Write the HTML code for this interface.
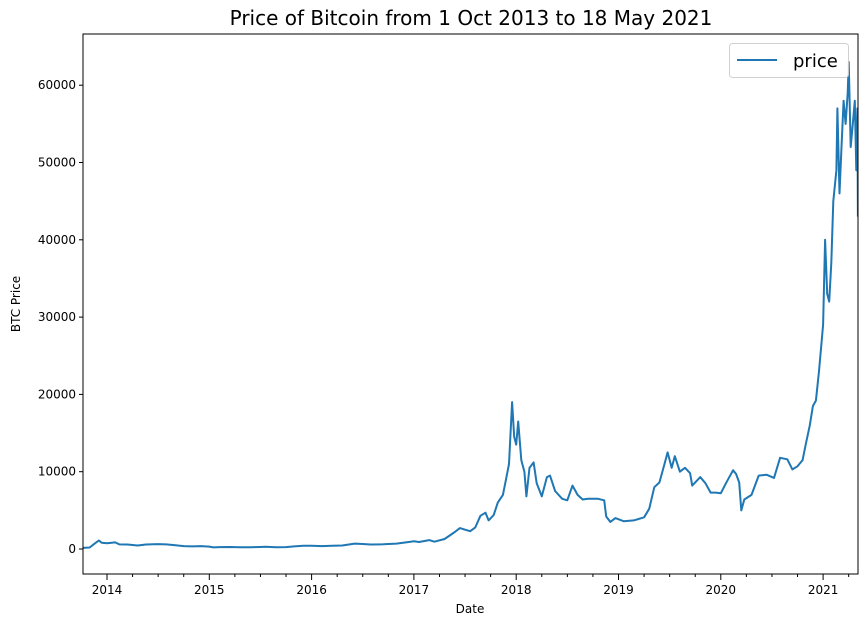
<!DOCTYPE html>
<html><head><meta charset="utf-8"><style>
body{margin:0;background:#fff;font-family:"Liberation Sans","DejaVu Sans",sans-serif}
</style></head><body>
<svg width="868" height="626" style="font-family:'DejaVu Sans','Liberation Sans',sans-serif">
<defs><clipPath id="clip"><rect x="83" y="34" width="775" height="540"/></clipPath></defs>
<rect width="868" height="626" fill="#fff"/>
<text x="471" y="25" font-size="20" text-anchor="middle">Price of Bitcoin from 1 Oct 2013 to 18 May 2021</text>
<g id="axes"></g>
<path id="line" fill="none" stroke="#1f77b4" stroke-width="2" stroke-linejoin="round" clip-path="url(#clip)"/>
<rect x="83" y="34" width="775" height="540" fill="none" stroke="#000" stroke-width="1"/>
<g>
<rect x="729.5" y="43.5" width="119" height="34" rx="3" fill="#fff" stroke="#ccc" opacity="0.9"/>
<line x1="737" y1="60" x2="777" y2="60" stroke="#1f77b4" stroke-width="2"/>
<text x="793" y="67" font-size="18">price</text>
</g>
<text x="470" y="613" font-size="12" text-anchor="middle">Date</text>
<text x="20" y="304" font-size="12" text-anchor="middle" transform="rotate(-90 20 304)">BTC Price</text>
</svg>
<script>
const dates=[2013.75,2013.83,2013.88,2013.92,2013.95,2014.0,2014.08,2014.12,2014.2,2014.3,2014.38,2014.45,2014.5,2014.58,2014.67,2014.75,2014.83,2014.92,2015.0,2015.04,2015.1,2015.2,2015.3,2015.4,2015.5,2015.55,2015.65,2015.75,2015.83,2015.92,2016.0,2016.1,2016.2,2016.3,2016.42,2016.5,2016.58,2016.7,2016.83,2016.95,2017.0,2017.05,2017.15,2017.2,2017.3,2017.4,2017.45,2017.5,2017.55,2017.6,2017.65,2017.7,2017.73,2017.78,2017.82,2017.87,2017.9,2017.93,2017.96,2017.98,2018.0,2018.02,2018.05,2018.08,2018.1,2018.13,2018.17,2018.2,2018.25,2018.3,2018.33,2018.38,2018.45,2018.5,2018.55,2018.6,2018.65,2018.7,2018.8,2018.86,2018.88,2018.92,2018.97,2019.05,2019.15,2019.25,2019.3,2019.35,2019.4,2019.45,2019.48,2019.52,2019.55,2019.6,2019.65,2019.7,2019.72,2019.8,2019.85,2019.9,2019.95,2020.0,2020.05,2020.12,2020.15,2020.18,2020.2,2020.23,2020.3,2020.37,2020.45,2020.52,2020.58,2020.65,2020.7,2020.75,2020.8,2020.83,2020.87,2020.9,2020.93,2020.96,2021.0,2021.02,2021.04,2021.06,2021.08,2021.1,2021.13,2021.14,2021.16,2021.18,2021.2,2021.22,2021.24,2021.25,2021.27,2021.29,2021.31,2021.325,2021.335,2021.34];
const prices=[125,200,700,1100,800,750,850,600,580,450,580,620,630,590,480,380,340,370,310,210,240,260,235,235,260,290,230,240,330,430,430,380,415,450,700,650,580,610,700,900,1000,900,1150,950,1300,2200,2700,2500,2300,2800,4300,4700,3700,4400,6000,7000,9000,11000,19000,14500,13500,16500,11500,10000,6800,10500,11200,8500,6800,9300,9500,7500,6500,6300,8200,7000,6400,6500,6500,6300,4200,3500,4000,3600,3700,4100,5200,8000,8600,11000,12500,10500,12000,10000,10500,9800,8200,9300,8500,7300,7300,7200,8500,10200,9700,8600,5000,6400,7000,9500,9600,9200,11800,11600,10300,10700,11500,13500,16000,18500,19200,23000,29000,40000,33000,32000,37000,45000,49000,57000,46000,52000,58000,55000,59000,63000,52000,55000,58000,49000,57000,43000];
const yTicks=[0,10000,20000,30000,40000,50000,60000];
const xTicks=[2014,2015,2016,2017,2018,2019,2020,2021];
const x=d=>107+(d-2014)*102.3;
const y=v=>549-v*0.00773;
const NS='http://www.w3.org/2000/svg';
const ax=document.getElementById('axes');
function mk(t,a){const e=document.createElementNS(NS,t);for(const k in a)e.setAttribute(k,a[k]);ax.appendChild(e);return e;}
yTicks.forEach(v=>{
 const l=mk('line',{x1:79,x2:83,y1:y(v),y2:y(v),stroke:'#000'});
 
 
 const t=mk('text',{x:76,y:y(v)+4,'font-size':12,'text-anchor':'end'});t.textContent=v;
 
 
});
xTicks.forEach(d=>{
 const l=mk('line',{x1:x(d),x2:x(d),y1:574,y2:580,stroke:'#000'});
 
 
 const t=mk('text',{x:x(d),y:594,'font-size':12,'text-anchor':'middle'});t.textContent=d;
 
 
 [0.25,0.5,0.75].forEach(q=>{if(x(d+q)<858){const m=mk('line',{x1:x(d+q),x2:x(d+q),y1:574,y2:577,stroke:'#000'});
 
 }});
});
let p='';dates.forEach((d,i)=>{p+=(i?'L':'M')+x(d).toFixed(1)+','+y(prices[i]).toFixed(1);});
document.getElementById('line').setAttribute('d',p);
</script>
</body></html>
